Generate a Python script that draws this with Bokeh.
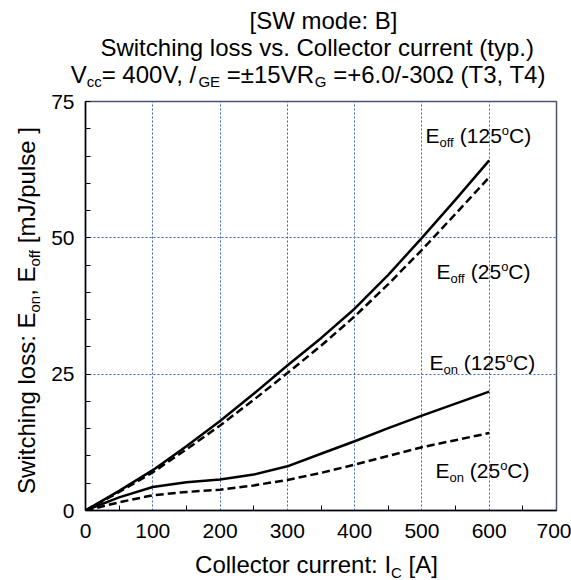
import math
from bokeh.plotting import figure
from bokeh.models import Label, Range1d, FixedTicker
from bokeh.layouts import column, row
from bokeh.embed import file_html
from bokeh.resources import INLINE

# ---- data ----
current = [0, 50, 100, 150, 200, 250, 300, 350, 400, 450, 500, 550, 600]
eoff_125 = [0, 3.6, 7.4, 11.8, 16.4, 21.4, 26.6, 31.6, 37.0, 43.2, 50.0, 57.0, 64.2]
eoff_25 = [0, 3.4, 7.0, 11.2, 15.6, 20.3, 25.2, 30.2, 35.6, 41.5, 47.8, 54.4, 61.1]
eon_125 = [0, 2.4, 4.3, 5.2, 5.7, 6.6, 8.1, 10.4, 12.7, 15.1, 17.4, 19.6, 21.8]
eon_25 = [0, 1.5, 2.8, 3.4, 3.8, 4.6, 5.6, 6.9, 8.4, 10.0, 11.6, 12.9, 14.2]

x_ticks = [0, 100, 200, 300, 400, 500, 600, 700]
y_ticks = [0, 25, 50, 75]
x_minor = [50, 150, 250, 350, 450, 550, 650]
y_minor = [5, 10, 15, 20, 30, 35, 40, 45, 55, 60, 65, 70]

FONT = "Liberation Sans"

W = {' ': 278, '!': 278, '(': 333, ')': 333, '+': 584, ',': 278, '-': 333, '.': 278,
     '/': 278, ':': 278, '=': 584, '[': 278, ']': 278, '±': 584, 'Ω': 768,
     'A': 667, 'B': 667, 'C': 722, 'D': 722, 'E': 667, 'F': 611, 'G': 778, 'H': 722,
     'I': 278, 'J': 500, 'K': 667, 'L': 556, 'M': 833, 'N': 722, 'O': 778, 'P': 667,
     'Q': 778, 'R': 722, 'S': 667, 'T': 611, 'U': 722, 'V': 667, 'W': 944, 'X': 667,
     'Y': 667, 'Z': 611, 'a': 556, 'b': 556, 'c': 500, 'd': 556, 'e': 556, 'f': 278,
     'g': 556, 'h': 556, 'i': 222, 'j': 222, 'k': 500, 'l': 222, 'm': 833, 'n': 556,
     'o': 556, 'p': 556, 'q': 556, 'r': 333, 's': 500, 't': 278, 'u': 556, 'v': 500,
     'w': 722, 'x': 500, 'y': 500, 'z': 500}
BASE_FIX = 0.34  # rendered baseline sits this fraction of the size too low


def tw(t, s):
    return sum(W.get(c, 556) for c in t) / 1000.0 * s


def text_panel(w, h, bottom=0, top=0):
    f = figure(width=w, height=h, x_range=Range1d(0, 1), y_range=Range1d(0, 1),
               output_backend="svg", toolbar_location=None, min_border=0,
               min_border_bottom=bottom, min_border_top=top,
               x_axis_type=None, y_axis_type=None)
    f.outline_line_color = None
    f.xgrid.visible = False
    f.ygrid.visible = False
    return f


# ---- main plot ----
YL_W = 46       # width of the y-label panel
BL = 85 - YL_W  # left border of the main plot
BB = 40         # bottom border of the main plot
BT = 12         # top border of the main plot
TITLE_H = 101 - BT
p = figure(width=571 - YL_W, height=409 + BT + BB, x_range=Range1d(0, 700),
           y_range=Range1d(0, 75), output_backend="svg", toolbar_location=None,
           min_border_left=BL, min_border_right=15, min_border_top=BT,
           min_border_bottom=BB)
p.outline_line_color = "#4a5673"
p.outline_line_width = 1.5

p.xaxis.ticker = FixedTicker(ticks=x_ticks, minor_ticks=x_minor)
p.yaxis.ticker = FixedTicker(ticks=y_ticks, minor_ticks=y_minor)
for ax in (p.xaxis[0], p.yaxis[0]):
    ax.axis_line_color = "black"
    ax.axis_line_width = 1.5
    ax.major_tick_out = 0
    ax.minor_tick_out = 0
    ax.minor_tick_in = 5
    ax.major_tick_line_color = "black"
    ax.minor_tick_line_color = "black"
    ax.major_label_text_font = FONT
    ax.major_label_text_font_size = "21px"
    ax.major_label_text_color = "black"
p.xaxis.major_label_standoff = 13
p.yaxis.major_label_standoff = 11
p.xaxis.major_tick_in = 0
p.yaxis.major_tick_in = 5

for g in (p.xgrid[0], p.ygrid[0]):
    g.grid_line_color = "#3a66b8"
    g.grid_line_dash = "2 2"
    g.grid_line_width = 1
p.xgrid.ticker = FixedTicker(ticks=x_ticks)
p.ygrid.ticker = FixedTicker(ticks=y_ticks)

p.line(current, eoff_125, line_color="black", line_width=2.5)
p.line(current, eoff_25, line_color="black", line_width=2.5, line_dash="8 4")
p.line(current, eon_125, line_color="black", line_width=2.5)
p.line(current, eon_25, line_color="black", line_width=2.5, line_dash="8 4")

title_fig = text_panel(571, TITLE_H)
ylab_fig = text_panel(YL_W, 409 + BT + BB, bottom=BB, top=BT)
xlab_fig = text_panel(571, 30)

# panels: (figure, frame left in page px, frame bottom in page px)
PAN = {"title": (title_fig, 0, TITLE_H), "ylab": (ylab_fig, 0, 510),
       "xlab": (xlab_fig, 0, 580), "main": (p, 85, 510)}


def place(panel, segs, cx, cy, angle=0.0, anchor="left"):
    """segs: (text, size px, baseline shift px up). cx, cy: page px."""
    fig, fl, fb = PAN[panel]
    total = sum(tw(t, s) for t, s, d in segs)
    adv = -total / 2 if anchor == "center" else 0.0
    ca, sa = math.cos(angle), math.sin(angle)
    bx, by = cx - fl, fb - cy
    for t, s, d in segs:
        lead = len(t) - len(t.lstrip(" "))
        a = adv + tw(" " * lead, s)
        dd = d + BASE_FIX * s
        x = bx + a * ca - dd * sa
        y = by + a * sa + dd * ca
        txt = t.strip(" ")
        if txt:
            fig.add_layout(Label(x=x, y=y, x_units="screen", y_units="screen", text=txt,
                                 text_font=FONT, text_font_size=f"{s}px",
                                 text_color="black", text_align="left",
                                 text_baseline="alphabetic", angle=angle))
        adv += tw(t, s)


TF, TS = 24, 15
place("title", [("[SW mode: B]", TF, 0)], 323, 28, anchor="center")
place("title", [("Switching loss vs. Collector current  (typ.)", TF, 0)], 320, 55,
      anchor="center")
place("title", [("V", TF, 0), ("cc", TS, -4), ("= 400V, /", TF, 0), ("GE", TS, -4),
                (" =±15VR", TF, 0), ("G", TS, -4), (" =+6.0/-30Ω (T3, T4)", TF, 0)],
      308, 82, anchor="center")

AF, AS = 24, 15
place("xlab", [("Collector current: I", AF, 0), ("C", AS, -5), (" [A]", AF, 0)], 316, 572,
      anchor="center")
place("ylab", [("Switching loss: E", AF, 0), ("on", AS, -5), (", E", AF, 0), ("off", AS, -5),
               (" [mJ/pulse ]", AF, 0)], 34, 310, angle=math.pi / 2, anchor="center")

LF, LS = 21, 13
place("main", [("E", LF, 0), ("off", LS, -4), (" (125", LF, 0), ("o", LS, 8), ("C)", LF, 0)], 425, 142)
place("main", [("E", LF, 0), ("off", LS, -4), (" (25", LF, 0), ("o", LS, 8), ("C)", LF, 0)], 436, 278)
place("main", [("E", LF, 0), ("on", LS, -4), (" (125", LF, 0), ("o", LS, 8), ("C)", LF, 0)], 429, 369)
place("main", [("E", LF, 0), ("on", LS, -4), (" (25", LF, 0), ("o", LS, 8), ("C)", LF, 0)], 435, 477)

layout = column(title_fig, row(ylab_fig, p, spacing=0), xlab_fig, spacing=0)
open("out.html", "w").write(file_html(layout, INLINE))
